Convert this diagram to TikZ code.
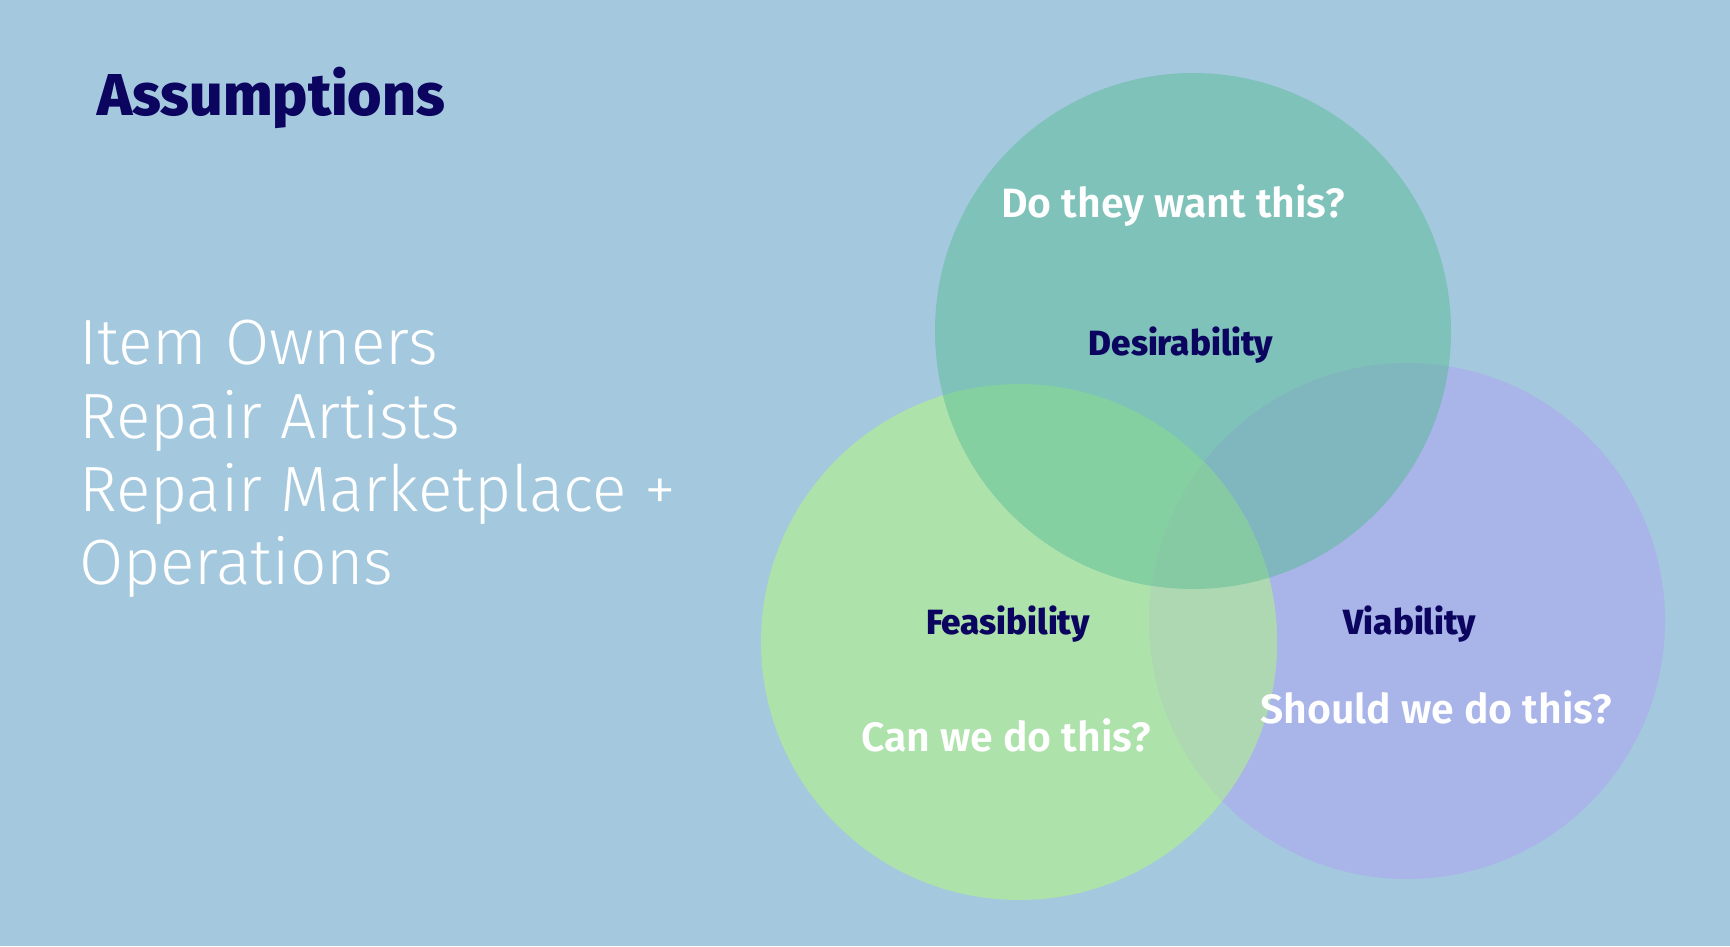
\documentclass[tikz,border=0pt]{standalone}
\usepackage{fontspec}
\setmainfont{Fira Sans}
\newfontfamily\heavyfont{Fira Sans ExtraBold}
\newfontfamily\semifont{Fira Sans SemiBold}
\newfontfamily\lightfont{Fira Sans Light}
\definecolor{bgc}{HTML}{A4C8DD}
\definecolor{colD}{HTML}{7FC2BA}
\definecolor{colF}{HTML}{ADE2AB}
\definecolor{colV}{HTML}{A9B5E9}
\definecolor{colDF}{HTML}{85D0A1}
\definecolor{colDV}{HTML}{80B6BE}
\definecolor{colFV}{HTML}{AED8B1}
\definecolor{colDFV}{HTML}{86CAA3}
\definecolor{navy}{HTML}{0C0560}
\tikzset{
  titletext/.style={anchor=base west, inner sep=0pt, text=navy, font=\heavyfont\fontsize{59}{59}\selectfont},
  listtext/.style={anchor=base west, inner sep=0pt, text=white, font=\lightfont\fontsize{64}{64}\selectfont},
  labeltext/.style={anchor=base, inner sep=0pt, text=navy, font=\heavyfont\fontsize{35}{35}\selectfont},
  questiontext/.style={anchor=base, inner sep=0pt, text=white, font=\semifont\fontsize{41}{41}\selectfont}
}
\begin{document}
\begin{tikzpicture}[x=1pt,y=-1pt]
\useasboundingbox (0,0) rectangle (1730,946);
\fill[bgc] (0,0) rectangle (1730,946);
\coordinate (cD) at (1193,331);
\coordinate (cF) at (1019,642);
\coordinate (cV) at (1407,621);
% circles
\fill[colV] (cV) circle[radius=258pt];
\fill[colF] (cF) circle[radius=258pt];
\fill[colD] (cD) circle[radius=258pt];
% overlaps
\begin{scope}
  \clip (cD) circle[radius=258pt];
  \fill[colDF] (cF) circle[radius=258pt];
\end{scope}
\begin{scope}
  \clip (cD) circle[radius=258pt];
  \fill[colDV] (cV) circle[radius=258pt];
\end{scope}
\begin{scope}
  \clip (cF) circle[radius=258pt];
  \fill[colFV] (cV) circle[radius=258pt];
\end{scope}
\begin{scope}
  \clip (cD) circle[radius=258pt];
  \clip (cF) circle[radius=258pt];
  \fill[colDFV] (cV) circle[radius=258pt];
\end{scope}
% texts
\node[titletext] (title) at (97,115) {Assumptions};
\node[listtext] (l1) at (79,364) {Item Owners};
\node[listtext] (l2) at (79,438) {Repair Artists};
\node[listtext] (l3) at (79,511) {Repair Marketplace +};
\node[listtext] (l4) at (79,584) {Operations};
\node[labeltext] (des) at (1181,355) {Desirability};
\node[labeltext] (fea) at (1008,634) {Feasibility};
\node[labeltext] (via) at (1410,634) {Viability};
\node[questiontext] (q1) at (1173,217) {Do they want this?};
\node[questiontext] (q2) at (1006,751) {Can we do this?};
\node[questiontext] (q3) at (1436,723) {Should we do this?};
\end{tikzpicture}
\end{document}
